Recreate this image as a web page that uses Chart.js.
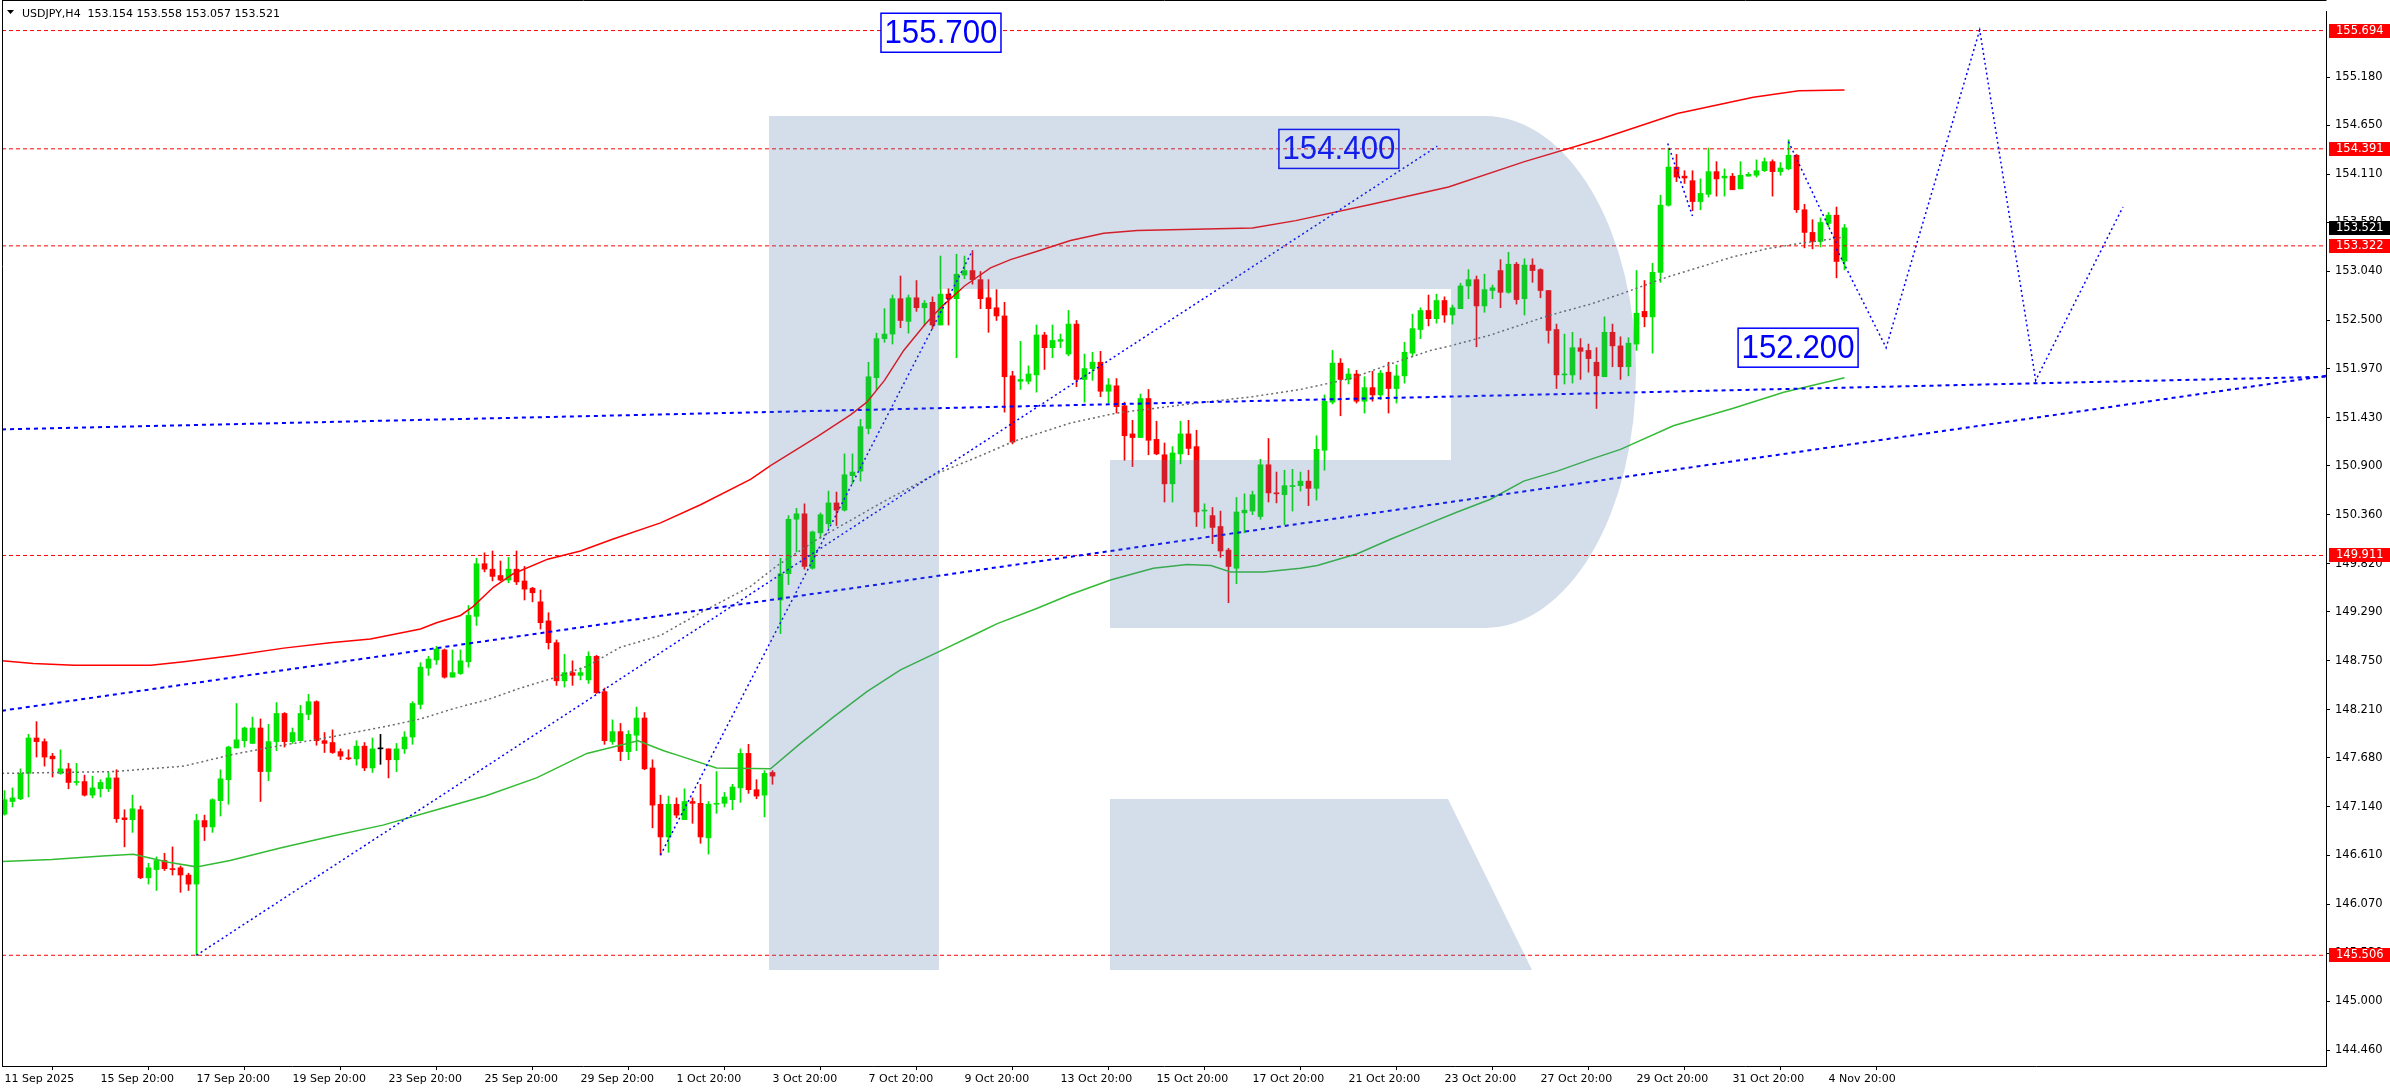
<!DOCTYPE html>
<html><head><meta charset="utf-8">
<script src="https://cdn.jsdelivr.net/npm/chart.js@4.4.1/dist/chart.umd.min.js"></script>
<style>html,body{margin:0;padding:0;background:#fff;overflow:hidden}</style>
</head><body>
<canvas id="c" width="2390" height="1090"></canvas>
<script>
// ---------------- DATA ----------------
const opens = [147.06,147.20,147.23,147.51,147.90,147.86,147.70,147.51,147.56,147.41,147.42,147.27,147.34,147.34,147.46,147.02,147.00,147.11,146.36,146.45,146.55,146.46,146.47,146.39,146.29,146.99,146.92,147.21,147.44,147.79,147.87,147.84,148.01,147.53,147.86,148.17,147.86,147.87,148.16,148.30,147.87,147.85,147.75,147.68,147.67,147.81,147.57,147.78,147.78,147.66,147.78,147.91,148.27,148.67,148.76,148.87,148.57,148.61,148.74,149.24,149.82,149.76,149.69,149.64,149.76,149.63,149.55,149.40,149.19,148.95,148.53,148.62,148.59,148.54,148.80,148.41,147.86,147.97,147.75,147.93,148.12,147.57,147.17,146.81,147.17,147.00,147.20,147.18,146.80,147.17,147.18,147.22,147.35,147.73,147.33,147.27,147.52,149.42,149.71,150.31,150.37,149.77,150.16,150.26,150.49,150.41,150.79,150.84,151.31,151.87,152.30,152.35,152.74,152.49,152.75,152.64,152.70,152.45,152.79,152.74,153.00,153.05,152.95,152.75,152.64,152.55,151.89,151.83,151.83,151.90,152.34,152.20,152.27,152.13,152.46,151.85,151.97,152.04,151.72,151.78,151.56,151.25,151.21,151.64,151.19,151.02,150.70,151.03,151.25,151.11,150.40,150.35,150.23,149.97,149.77,150.38,150.40,150.34,150.91,150.60,150.58,150.67,150.68,150.73,150.65,151.07,151.60,152.03,151.85,151.91,151.61,151.76,151.68,151.93,151.75,151.89,152.14,152.40,152.61,152.52,152.72,152.56,152.63,152.88,152.95,152.66,152.83,153.05,152.81,153.12,152.74,153.11,153.06,152.83,152.40,151.90,151.90,152.20,152.17,152.04,151.88,152.37,152.22,151.99,152.24,152.60,152.54,153.03,153.77,154.19,154.09,154.04,153.81,153.89,154.14,154.07,154.09,153.95,154.09,154.10,154.15,154.25,154.14,154.17,154.32,153.72,153.47,153.37,153.57,153.66,153.154];
const highs = [147.32,147.35,147.56,147.94,148.08,147.89,147.73,147.77,147.62,147.62,147.49,147.48,147.44,147.52,147.55,147.11,147.27,147.15,146.52,146.59,146.63,146.70,146.49,146.41,147.06,147.05,147.23,147.55,147.81,148.28,148.02,148.13,148.11,148.05,148.29,148.18,148.01,148.26,148.38,148.31,147.96,147.99,147.78,147.77,147.87,147.85,147.90,147.94,147.78,147.84,147.97,148.30,148.73,148.80,148.91,148.88,148.87,148.87,149.36,149.88,149.94,149.96,149.85,149.89,149.96,149.79,149.56,149.53,149.28,148.98,148.82,148.75,148.67,148.85,148.81,148.45,148.10,148.06,147.98,148.24,148.18,147.66,147.27,147.26,147.24,147.34,147.24,147.39,147.20,147.53,147.30,147.39,147.78,147.83,147.44,147.54,147.54,149.88,150.35,150.43,150.48,150.18,150.38,150.62,150.61,151.03,151.03,151.41,152.04,152.36,152.63,152.78,152.99,152.78,152.94,152.72,152.76,153.21,152.85,153.23,153.21,153.27,153.04,152.95,152.84,152.70,151.94,152.27,152.00,152.45,152.37,152.45,152.35,152.61,152.50,152.13,152.15,152.16,151.86,151.86,151.60,151.40,151.69,151.74,151.39,151.15,151.11,151.39,151.40,151.29,150.48,150.44,150.40,149.99,150.55,150.59,150.62,150.97,151.20,150.83,150.85,150.86,150.83,150.85,151.23,151.68,152.17,152.08,151.97,151.95,151.88,151.94,151.95,152.04,152.01,152.26,152.57,152.64,152.78,152.79,152.76,152.67,152.91,153.06,152.99,153.01,152.89,153.17,153.25,153.14,153.18,153.18,153.07,152.83,152.46,152.35,152.37,152.30,152.24,152.20,152.54,152.46,152.32,152.31,153.05,152.94,153.13,153.88,154.40,154.33,154.15,154.15,154.06,154.40,154.25,154.17,154.12,154.25,154.13,154.27,154.29,154.27,154.24,154.49,154.33,153.78,153.61,153.63,153.69,153.75,153.558];
const lows = [147.05,147.14,147.22,147.25,147.69,147.59,147.47,147.50,147.34,147.38,147.26,147.24,147.25,147.31,146.97,146.70,146.86,146.35,146.29,146.22,146.44,146.39,146.20,146.22,145.506,146.77,146.86,147.04,147.17,147.79,147.80,147.84,147.20,147.43,147.76,147.80,147.84,147.87,148.10,147.82,147.74,147.73,147.66,147.66,147.60,147.54,147.52,147.61,147.46,147.53,147.73,147.83,148.22,148.59,148.71,148.56,148.57,148.60,148.68,149.14,149.73,149.63,149.63,149.61,149.59,149.42,149.40,149.10,148.88,148.48,148.46,148.48,148.54,148.50,148.39,147.83,147.83,147.65,147.66,147.76,147.55,146.91,146.61,146.64,147.02,147.00,146.96,146.74,146.62,147.07,147.14,147.11,147.19,147.29,147.23,147.03,147.39,149.05,149.59,149.95,149.76,149.76,150.10,150.21,150.24,150.40,150.70,150.73,151.25,151.74,152.26,152.24,152.42,152.36,152.60,152.44,152.41,152.45,152.45,152.09,152.96,152.90,152.63,152.37,152.50,151.49,151.14,151.74,151.80,151.71,151.96,152.09,152.20,152.11,151.77,151.60,151.84,151.66,151.59,151.48,150.96,150.89,151.21,151.02,151.02,150.50,150.50,150.92,151.02,150.23,150.21,150.04,149.89,149.39,149.60,150.16,150.36,150.31,150.50,150.49,150.25,150.40,150.62,150.46,150.52,150.85,151.58,151.45,151.80,151.59,151.48,151.61,151.63,151.48,151.59,151.81,152.10,152.30,152.44,152.47,152.48,152.46,152.63,152.74,152.21,152.59,152.74,152.64,152.80,152.68,152.56,152.92,152.75,152.25,151.75,151.80,151.81,151.85,151.93,151.53,151.88,151.99,151.85,151.89,152.17,152.43,152.14,152.92,153.76,154.03,154.01,153.71,153.72,153.86,153.87,153.87,153.94,153.95,154.09,154.08,154.14,153.87,154.10,154.16,153.69,153.30,153.29,153.31,153.53,152.97,153.057];
const closes = [147.22,147.24,147.51,147.90,147.86,147.69,147.67,147.56,147.41,147.42,147.27,147.35,147.41,147.46,147.01,147.00,147.12,146.36,146.47,146.55,146.46,146.45,146.39,146.29,146.99,146.92,147.22,147.45,147.80,147.88,148.01,148.01,147.53,147.86,148.17,147.86,147.96,148.17,148.30,147.87,147.84,147.74,147.70,147.67,147.81,147.57,147.78,147.78,147.66,147.78,147.91,148.28,148.68,148.77,148.88,148.57,148.62,148.75,149.25,149.82,149.76,149.68,149.64,149.76,149.62,149.54,149.50,149.17,148.95,148.53,148.62,148.59,148.62,148.80,148.40,147.87,147.97,147.75,147.94,148.12,147.56,147.16,146.81,147.17,147.05,147.20,147.18,146.81,147.17,147.18,147.25,147.36,147.73,147.33,147.26,147.51,147.48,149.71,150.31,150.37,149.79,150.17,150.36,150.49,150.41,150.80,150.83,151.33,151.88,152.30,152.35,152.74,152.50,152.75,152.64,152.69,152.45,152.79,152.74,153.01,153.05,152.95,152.74,152.63,152.55,151.88,151.16,151.85,151.91,152.34,152.20,152.28,152.29,152.46,151.85,151.97,152.04,151.72,151.79,151.55,151.23,151.21,151.64,151.18,151.03,150.70,151.04,151.25,151.09,150.39,150.41,150.22,149.96,149.79,150.39,150.41,150.58,150.91,150.60,150.59,150.68,150.68,150.73,150.65,151.08,151.61,152.03,151.85,151.91,151.61,151.76,151.68,151.92,151.75,151.89,152.15,152.41,152.61,152.52,152.72,152.56,152.64,152.88,152.95,152.66,152.84,152.86,152.81,153.12,152.73,153.11,153.05,152.83,152.39,151.90,151.91,152.20,152.16,152.08,151.89,152.37,152.22,151.99,152.25,152.58,152.54,153.03,153.77,154.19,154.08,154.07,153.81,153.90,154.14,154.06,154.09,153.94,154.10,154.11,154.15,154.25,154.14,154.18,154.32,153.72,153.47,153.37,153.58,153.66,153.15,153.521];

const timeTickIdx = [0,12,24,36,48,60,72,84,96,108,120,132,144,156,168,180,192,204,216,228];
const timeTickLabels = ["11 Sep 2025","15 Sep 20:00","17 Sep 20:00","19 Sep 20:00","23 Sep 20:00","25 Sep 20:00","29 Sep 20:00","1 Oct 20:00","3 Oct 20:00","7 Oct 20:00","9 Oct 20:00","13 Oct 20:00","15 Oct 20:00","17 Oct 20:00","21 Oct 20:00","23 Oct 20:00","27 Oct 20:00","29 Oct 20:00","31 Oct 20:00","4 Nov 20:00"];
const priceTicks = [155.180,154.650,154.110,153.580,153.040,152.500,151.970,151.430,150.900,150.360,149.820,149.290,148.750,148.210,147.680,147.140,146.610,146.070,145.530,145.000,144.460];

// Band lines (upper / middle / lower)
const upperX = [-0.3,3.6,8.7,18.3,22.4,28.6,34.9,40.7,45.75,52,54,57,58.6,61.1,63.6,67.9,72,76,82,87,93.25,95.75,101.6,105.75,107.8,110,112.4,115,117,120,123.25,125.75,129,133.25,137.4,141.6,145.75,156,161.4,170.9,180.5,190,199.5,209.1,218.6,224.3,230];
const upperY = [148.75,148.72,148.70,148.70,148.74,148.81,148.89,148.95,148.99,149.10,149.17,149.25,149.35,149.56,149.71,149.87,149.96,150.09,150.27,150.47,150.75,150.90,151.22,151.46,151.60,151.84,152.17,152.45,152.64,152.88,153.08,153.17,153.26,153.38,153.46,153.49,153.50,153.52,153.60,153.78,153.97,154.25,154.50,154.78,154.96,155.03,155.04];
const midX = [-0.3,13.7,22.4,28.6,32.8,40.75,47.8,52,56,60.3,64.5,68.6,72.8,77,82,87,93.25,96.6,101.6,110,116.2,122,126.2,133.25,139,150,156,162,168.25,173.25,178.25,180.75,185.75,193.25,198.25,202,207.9,212,216,220.3,224.5,228.6,230];
const midY = [147.51,147.53,147.59,147.72,147.79,147.91,148.03,148.11,148.22,148.32,148.45,148.56,148.69,148.90,149.03,149.28,149.57,149.80,150.09,150.51,150.80,151.01,151.17,151.37,151.48,151.60,151.66,151.74,151.86,152.02,152.17,152.22,152.34,152.56,152.68,152.79,152.98,153.09,153.20,153.29,153.35,153.40,153.42];
const lowerX = [-0.3,5.9,12.25,16.1,20.5,24,28.2,34.6,41,47.3,53.7,60.1,66.5,72.8,79.2,82.4,84.5,89,95.75,99.5,103.6,107.8,112,117,122,124.1,129.1,133.25,138.25,143.6,147.8,150.8,153.25,157.4,162,164.1,169.1,173.25,177.4,181.6,185.75,189.9,194.1,198.25,202,208.6,216,222.4,230];
const lowerY = [146.54,146.56,146.60,146.62,146.53,146.48,146.55,146.69,146.82,146.94,147.10,147.26,147.46,147.73,147.87,147.76,147.70,147.57,147.56,147.84,148.13,148.41,148.65,148.86,149.07,149.16,149.33,149.48,149.64,149.77,149.81,149.80,149.73,149.73,149.77,149.80,149.93,150.09,150.24,150.39,150.53,150.73,150.84,150.97,151.08,151.34,151.53,151.71,151.87];

// Horizontal levels
const levelValues = [155.694,154.391,153.322,149.911,145.506];
const lastPrice = 153.521;

// Trend lines (x = bar index, y = price)
const trendA_X = [-0.3125,290.1875], trendA_Y = [151.30,151.88];
const trendB_X = [-0.3125,290.1875], trendB_Y = [148.20,151.89];
const trendC_X = [24,179.1], trendC_Y = [145.506,154.42];
const trendD_X = [82,121], trendD_Y = [146.61,153.27];
const wave1_X = [207.9,211], wave1_Y = [154.45,153.65];
const wave2_X = [223,229], wave2_Y = [154.47,153.35];
const forecastX = [229,235.2,246.9,253.9,264.8];
const forecastY = [153.29,152.20,155.70,151.84,153.75];

// Boxed target labels
const targetTexts = ["155.700","154.400","152.200"];
const targetRightIdx = [124.56,174.3,231.7];
const targetPrice = [155.67,154.39,152.20];

// ---------------- CHART ----------------
const idx = opens.map((_, i) => i);
const BULL = '#00E400', BEAR = '#FF0000';
const candleColor = idx.map(i => closes[i] > opens[i] ? BULL : (closes[i] < opens[i] ? BEAR : '#000000'));
const pts = (xs, ys) => xs.map((x, i) => ({x, y: ys[i]}));
const X_MIN = -0.3125, X_MAX = 290.1875;

function lineDs(data, color, width, dash, order) {
  return {type:'line', data, borderColor:color, borderWidth:width, borderDash:dash||[], pointRadius:0, tension:0, fill:false, order, borderCapStyle:'butt'};
}

const datasets = [
  {type:'bar', data: idx.map(i => ({x:i, y:[lows[i], highs[i]]})), backgroundColor: candleColor, barThickness:1, grouped:false, order:20},
  {type:'bar', data: idx.map(i => ({x:i, y:[opens[i], closes[i]]})), backgroundColor: candleColor, barThickness:5, minBarLength:1, grouped:false, order:19},
  lineDs(pts(upperX, upperY), '#FF0000', 1.5, [], 10),
  lineDs(pts(midX, midY), '#6a6a6a', 1.5, [2,3], 10),
  lineDs(pts(lowerX, lowerY), '#33BB33', 1.5, [], 10),
];
levelValues.forEach(v => datasets.push(lineDs([{x:X_MIN,y:v},{x:X_MAX,y:v}], '#FF0000', 1, [4,3], 8)));
datasets.push(lineDs(pts(trendA_X, trendA_Y), '#0000FF', 2, [4,4], 6));
datasets.push(lineDs(pts(trendB_X, trendB_Y), '#0000FF', 2, [4,4], 6));
datasets.push(lineDs(pts(trendC_X, trendC_Y), '#0000FF', 1.5, [2,3], 6));
datasets.push(lineDs(pts(trendD_X, trendD_Y), '#0000FF', 1.5, [2,3], 6));
datasets.push(lineDs(pts(wave1_X, wave1_Y), '#0000FF', 1.5, [2,3], 6));
datasets.push(lineDs(pts(wave2_X, wave2_Y), '#0000FF', 1.5, [2,3], 6));
datasets.push(lineDs(pts(forecastX, forecastY), '#0000FF', 1.5, [2,3], 6));

const overlay = {
  id: 'overlay',
  afterDatasetsDraw(chart) {
    const {ctx, chartArea: a, scales: {x, y}} = chart;
    ctx.save();
    ctx.beginPath(); ctx.rect(a.left, a.top, a.right - a.left, a.bottom - a.top); ctx.clip();
    // boxed target labels
    ctx.font = '33px "Liberation Sans", Arial, sans-serif';
    ctx.textBaseline = 'middle';
    ctx.textAlign = 'center';
    targetTexts.forEach((t, i) => {
      const r = x.getPixelForValue(targetRightIdx[i]);
      const cy = y.getPixelForValue(targetPrice[i]);
      const w = 120, h = 39;
      if (i !== 1) { ctx.fillStyle = '#fff'; ctx.fillRect(r - w, cy - h/2, w, h); }
      ctx.strokeStyle = '#0000FF'; ctx.lineWidth = 1.5;
      ctx.strokeRect(r - w, cy - h/2, w, h);
      ctx.fillStyle = '#0000FF';
      ctx.fillText(t, r - w/2, cy + 1, 113);
    });
    // watermark "R" (semi-transparent overlay)
    ctx.fillStyle = 'rgba(77,121,170,0.247)';
    ctx.beginPath();
    ctx.rect(769, 116, 170, 854);
    ctx.moveTo(939, 116); ctx.lineTo(1485, 116);
    ctx.ellipse(1485, 372, 151, 256, 0, -Math.PI/2, Math.PI/2, false);
    ctx.lineTo(1110, 628); ctx.lineTo(1110, 460); ctx.lineTo(1451, 460); ctx.lineTo(1451, 289); ctx.lineTo(939, 289); ctx.closePath();
    ctx.moveTo(1110, 799); ctx.lineTo(1448, 799); ctx.lineTo(1532, 970); ctx.lineTo(1110, 970); ctx.closePath();
    ctx.fill();
    ctx.restore();
  },
  afterDraw(chart) {
    const {ctx, chartArea: a, scales: {y}} = chart;
    ctx.save();
    // frame
    ctx.strokeStyle = '#000'; ctx.lineWidth = 1;
    ctx.beginPath(); ctx.moveTo(2.5, 0.5); ctx.lineTo(a.right + 0.5, 0.5); ctx.moveTo(2.5, 0); ctx.lineTo(2.5, a.bottom); ctx.stroke();
    // title
    ctx.fillStyle = '#000';
    ctx.beginPath(); ctx.moveTo(7, 10); ctx.lineTo(14, 10); ctx.lineTo(10.5, 14); ctx.closePath(); ctx.fill();
    ctx.font = '11px "DejaVu Sans", sans-serif';
    ctx.textBaseline = 'alphabetic'; ctx.textAlign = 'left';
    ctx.fillText('USDJPY,H4  ' + [opens[230], highs[230], lows[230], closes[230]].map(v => v.toFixed(3)).join(' '), 22, 17);
    // price boxes on axis
    ctx.font = '11.5px "DejaVu Sans", sans-serif';
    ctx.textBaseline = 'middle';
    const box = (v, bg) => {
      const py = Math.round(y.getPixelForValue(v));
      ctx.fillStyle = bg; ctx.fillRect(a.right + 3, py - 7, 2390 - a.right - 3, 14);
      ctx.fillStyle = '#fff'; ctx.fillText(v.toFixed(3), a.right + 10, py + 0.5);
    };
    levelValues.forEach(v => box(v, '#FF0000'));
    box(lastPrice, '#000000');
    ctx.restore();
  }
};

new Chart(document.getElementById('c'), {
  type: 'bar',
  data: {datasets},
  options: {
    responsive: false, animation: false, devicePixelRatio: 1, events: [],
    layout: {padding: {left: 2, top: 1, right: 0, bottom: 0}},
    plugins: {legend: {display: false}, tooltip: {enabled: false}},
    scales: {
      x: {
        type: 'linear', min: X_MIN, max: X_MAX, offset: false, position: 'bottom',
        grid: {drawOnChartArea: false, drawTicks: true, tickLength: 4, color: '#000'},
        border: {display: true, color: '#000', width: 1},
        ticks: {autoSkip: false, maxRotation: 0, align: 'start', padding: 3, color: '#000',
          font: {family: '"DejaVu Sans", sans-serif', size: 11},
          callback: (v) => { const k = timeTickIdx.indexOf(v); return k >= 0 ? timeTickLabels[k] : ''; }},
        afterBuildTicks: (s) => { s.ticks = timeTickIdx.map(v => ({value: v})); },
        afterFit: (s) => { s.height = 24; }
      },
      y: {
        type: 'linear', position: 'right', min: 144.286, max: 155.8997,
        grid: {drawOnChartArea: false, drawTicks: true, tickLength: 4, color: '#000'},
        border: {display: true, color: '#000', width: 1},
        ticks: {color: '#000', padding: 5, font: {family: '"DejaVu Sans", sans-serif', size: 11.5},
          callback: (v) => Number(v).toFixed(3)},
        afterBuildTicks: (s) => { s.ticks = priceTicks.map(v => ({value: v})); },
        afterFit: (s) => { s.width = 64; }
      }
    }
  },
  plugins: [overlay]
});
</script>
</body></html>
